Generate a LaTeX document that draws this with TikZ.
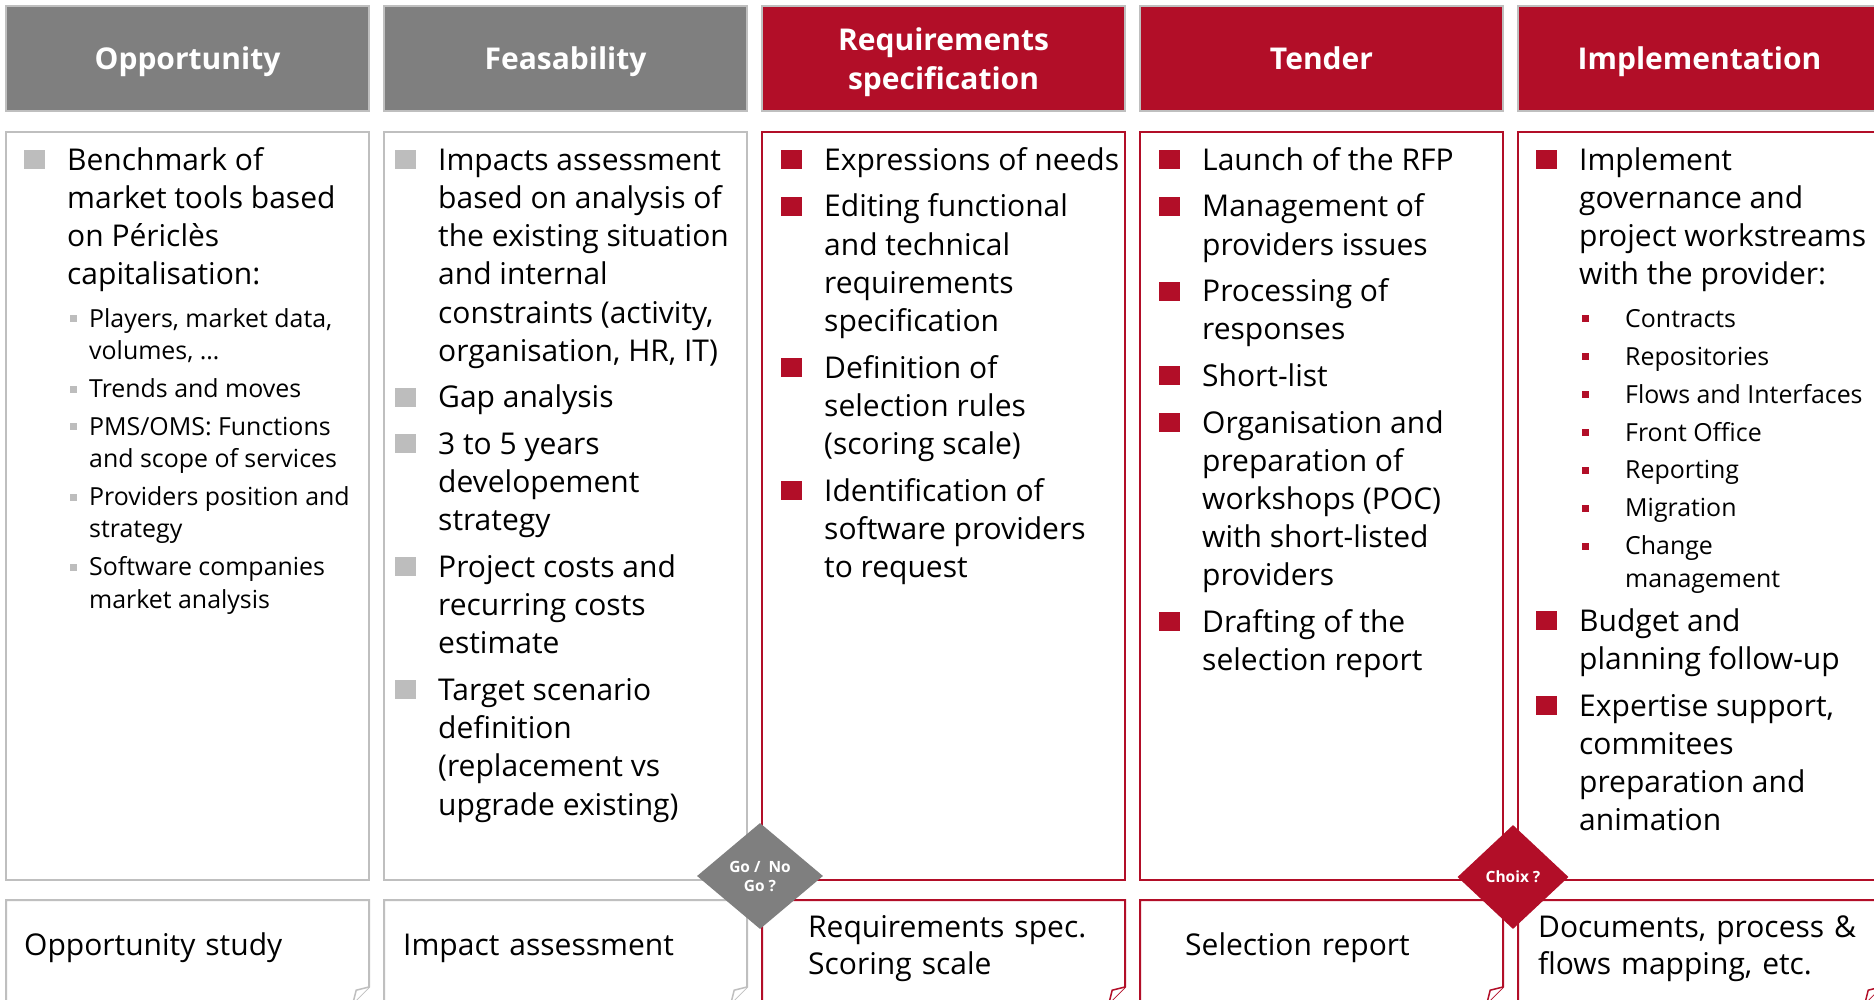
\documentclass[tikz,border=0pt]{standalone}
\usepackage{fontspec}
\setmainfont{Open Sans}
\usetikzlibrary{shapes.geometric}

\definecolor{hdgray}{HTML}{7F7F7F}
\definecolor{lngray}{HTML}{BFBFBF}
\definecolor{bltgray}{HTML}{BDBDBD}
\definecolor{kred}{HTML}{B20E28}

\newcommand{\bodyfont}{\fontsize{30}{38.2}\selectfont\spaceskip=.26em\relax}
\newcommand{\subfont}{\fontsize{24.9}{32.3}\selectfont\spaceskip=.26em\relax}
\newcommand{\resfont}{\fontsize{30}{37}\selectfont}
\def\bcol{bltgray}
% main bullet and sub bullet items, lines stacked by struts
\newcommand{\mainpt}[2][8.4pt]{\par\vspace{#1}\bodyfont\noindent
  \llap{{\color{\bcol}\rule[1pt]{21pt}{19pt}}\hspace{22pt}}%
  \begin{tabular}[t]{@{}l@{}}#2\end{tabular}\par}
\newcommand{\subpt}[3][5.6pt]{\par\vspace{#1}\subfont\noindent\hspace*{#2}%
  \llap{\makebox[#2][l]{\hspace{3pt}{\color{\bcol}\rule[5pt]{7pt}{7pt}}}}%
  \begin{tabular}[t]{@{}l@{}}#3\end{tabular}\par}

\begin{document}
\begin{tikzpicture}[x=1pt, y=-1pt,
  head/.style={rectangle, minimum width=363pt, minimum height=105pt, inner sep=0pt,
    draw=lngray, line width=1.5pt, text=white, align=center,
    text height=27pt, text depth=4pt,
    font=\fontsize{30}{38.5}\selectfont\bfseries},
  body/.style={rectangle, minimum width=363pt, minimum height=748pt, inner sep=0pt,
    fill=white, line width=2pt},
  items/.style={anchor=north west, inner sep=0pt, text width=520pt,
    execute at begin node={\lineskiplimit=\maxdimen\lineskip=0pt}},
  result/.style={anchor=north west, inner sep=0pt, text width=340pt, font=\resfont},
  gate/.style={diamond, inner sep=0pt, text=white, align=center,
    font=\fontsize{15.5}{19}\selectfont\bfseries}]

\useasboundingbox (0,0) rectangle (1874,1000);
\clip (0,0) rectangle (1874,1000);

% phases
\foreach \n/\x/\c/\t in {opp/187.5/hdgray/Opportunity, feas/565.5/hdgray/Feasability,
    tend/1321.5/kred/Tender, impl/1699.5/kred/Implementation} {
  \node[head, fill=\c] (\n-head) at (\x,58.5) {\t};
}
\node[head, fill=kred, text height=65.5pt] (req-head) at (943.5,58.5) {Requirements\\specification};
\foreach \n/\x/\c in {opp/187.5/lngray, feas/565.5/lngray, req/943.5/kred,
    tend/1321.5/kred, impl/1699.5/kred} {
  \node[body, draw=\c] (\n-body) at (\x,506) {};
}

% deliverables, folded corner
\foreach \l/\c in {6/lngray, 384/lngray, 762/kred, 1140/kred, 1518/kred} {
  \draw[\c, line width=2pt, fill=white] (\l,900) -- ++(363,0) -- ++(0,87)
    -- ++(-16,16) -- (\l,1003) -- cycle;
  \draw[\c, line width=1.5pt, fill=white] (\l+347,1003) -- ++(3.2,-12.8) -- (\l+363,987);
}

\node[items] (opp-text) at (67,143.3) {\def\bcol{bltgray}%
  \mainpt[0pt]{Benchmark of\\market tools based\\on Périclès\\capitalisation:}
  \subpt[8.4pt]{22pt}{Players, market data,\\volumes, …}
  \subpt{22pt}{Trends and moves}
  \subpt{22pt}{PMS/OMS: Functions\\and scope of services}
  \subpt{22pt}{Providers position and\\strategy}
  \subpt{22pt}{Software companies\\market analysis}};

\node[items] (feas-text) at (438,143.3) {\def\bcol{bltgray}%
  \mainpt[0pt]{Impacts assessment\\based on analysis of\\the existing situation\\and internal\\constraints (activity,\\organisation, HR, IT)}
  \mainpt{Gap analysis}
  \mainpt{3 to 5 years\\developement\\strategy}
  \mainpt{Project costs and\\recurring costs\\estimate}
  \mainpt{Target scenario\\definition\\(replacement vs\\upgrade existing)}};

\node[items] (req-text) at (824,143.3) {\def\bcol{kred}%
  \mainpt[0pt]{Expressions of needs}
  \mainpt{Editing functional\\and technical\\requirements\\specification}
  \mainpt{Definition of\\selection rules\\(scoring scale)}
  \mainpt{Identification of\\software providers\\to request}};

\node[items] (tend-text) at (1202,143.3) {\def\bcol{kred}%
  \mainpt[0pt]{Launch of the RFP}
  \mainpt{Management of\\providers issues}
  \mainpt{Processing of\\responses}
  \mainpt{Short-list}
  \mainpt{Organisation and\\preparation of\\workshops (POC)\\with short-listed\\providers}
  \mainpt{Drafting of the\\selection report}};

\node[items] (impl-text) at (1579,143.3) {\def\bcol{kred}%
  \mainpt[0pt]{Implement\\governance and\\project workstreams\\with the provider:}
  \subpt[8.4pt]{46pt}{Contracts}
  \subpt{46pt}{Repositories}
  \subpt{46pt}{Flows and Interfaces}
  \subpt{46pt}{Front Office}
  \subpt{46pt}{Reporting}
  \subpt{46pt}{Migration}
  \subpt{46pt}{Change\\management}
  \mainpt[7.8pt]{Budget and\\planning follow-up}
  \mainpt{Expertise support,\\commitees\\preparation and\\animation}};

\node[result] (opp-out) at (24,929) {\strut Opportunity study};
\node[result] (feas-out) at (403,929) {\strut Impact assessment};
\node[result] (req-out) at (808,911) {\strut Requirements spec.\\Scoring scale};
\node[result] (tend-out) at (1185,929) {\strut Selection report};
\node[result] (impl-out) at (1538,911) {\strut Documents, process \&\\flows mapping, etc.};

% decision points
\node[gate, fill=hdgray, minimum width=126pt, minimum height=106pt] (gonogo) at (760,876) {Go / \ No\\Go ?};
\node[gate, fill=kred, minimum width=111pt, minimum height=104pt] (choix) at (1513,877) {Choix ?};
\end{tikzpicture}
\end{document}
